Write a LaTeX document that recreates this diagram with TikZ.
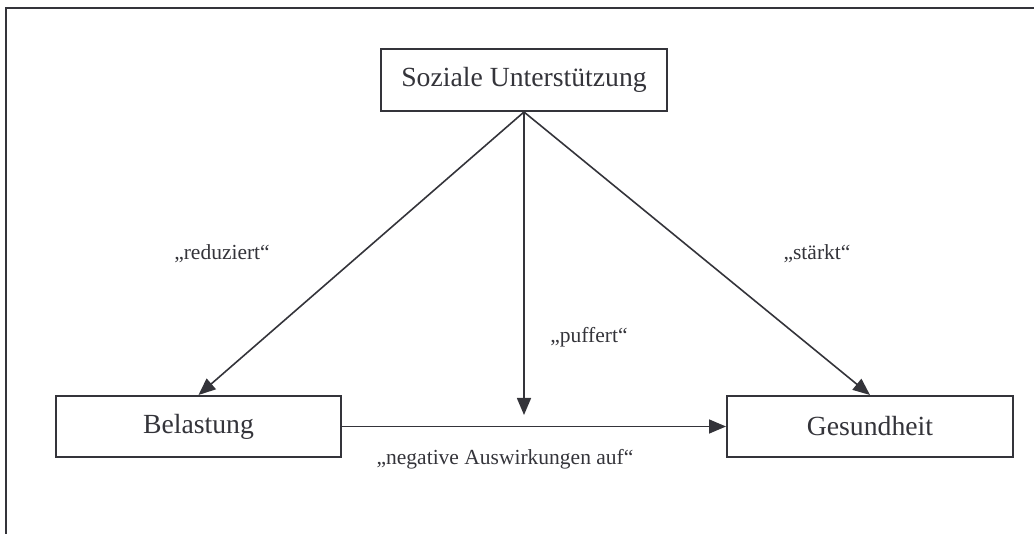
\documentclass[tikz,border=0pt]{standalone}
\usepackage{fontspec}
\setmainfont{Liberation Serif}
\usetikzlibrary{arrows.meta}
\definecolor{ink}{RGB}{52,52,58}
\tikzset{
  conceptbox/.style={draw=ink, line width=2pt, fill=white, text=ink,
    font=\fontsize{27.7}{32}\selectfont, inner sep=0pt},
  effect/.style={draw=ink, line width=1.6pt,
    -{Triangle[length=17pt,width=14pt]}},
  effectlabel/.style={text=ink, font=\fontsize{21.5}{25}\selectfont, inner sep=0pt},
}
\begin{document}
\begin{tikzpicture}[x=1pt,y=-1pt]
  \useasboundingbox (0,0) rectangle (1034,534);
  % outer frame (left and top edges)
  \draw[ink, line width=2pt] (5.5,534) -- (5.5,8) -- (1034,8);

  % concepts
  \node[conceptbox, minimum width=286pt, minimum height=62pt] (sup) at (524,80) {Soziale Unterstützung};
  \node[conceptbox, minimum width=285pt, minimum height=61pt] (bel) at (198.5,426.5) {Belastung};
  \node[conceptbox, minimum width=286pt, minimum height=61pt] (ges) at (870,426.5) {Gesundheit};
  \coordinate (buf) at (524,415);

  % effects
  \draw[effect] (sup.south) -- (bel.north);
  \draw[effect] (sup.south) -- (ges.north);
  \draw[effect] (sup.south) -- (buf);
  \draw[effect] (bel.east) -- (ges.west);

  % labels
  \node[effectlabel] (lred) at (222,254) {„reduziert“};
  \node[effectlabel] (lsta) at (817,254) {„stärkt“};
  \node[effectlabel] (lpuf) at (589,337) {„puffert“};
  \node[effectlabel] (lneg) at (505,459) {„negative Auswirkungen auf“};
\end{tikzpicture}
\end{document}
